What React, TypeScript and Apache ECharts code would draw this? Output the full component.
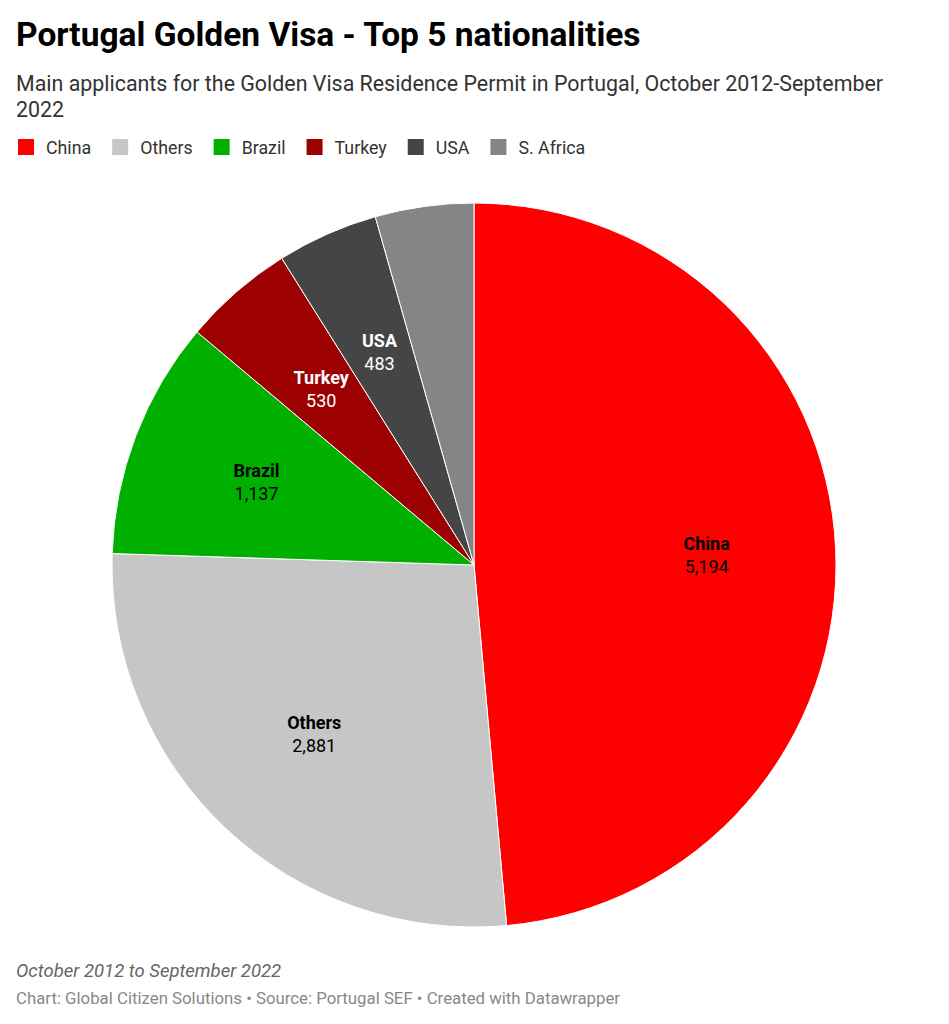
import React, { useEffect, useRef } from "react";
import * as echarts from "echarts";

const categories = ["China", "Others", "Brazil", "Turkey", "USA", "S. Africa"];
const values = [5194, 2881, 1137, 530, 483, 470];
const colors = ["#ff0000", "#c6c6c6", "#00b000", "#9c0000", "#454545", "#858585"];
const labelColors = ["#000", "#000", "#000", "#fff", "#fff", "#fff"];
const showLabel = [true, true, true, true, true, false];

const fmt = (v: number) => v.toLocaleString("en-US");

export default function App() {
  const ref = useRef<HTMLDivElement>(null);
  useEffect(() => {
    document.body.style.margin = "0";
    const chart = echarts.init(ref.current!, null, { renderer: "svg" });
    const font = "Roboto, 'Noto Sans', sans-serif";
    const R = 362;
    chart.setOption({
      animation: false,
      textStyle: { fontFamily: font },
      title: [
        {
          text: "Portugal Golden Visa - Top 5 nationalities",
          left: 16,
          top: 17,
          padding: 0,
          textStyle: { fontFamily: font, fontSize: 33.5, fontWeight: "bold", color: "#000" },
        },
        {
          text: "Main applicants for the Golden Visa Residence Permit in Portugal, October 2012-September\n2022",
          left: 16,
          top: 70,
          padding: 0,
          textStyle: { fontFamily: font, fontSize: 21.4, fontWeight: "normal", color: "#333", lineHeight: 26 },
        },
        {
          text: "October 2012 to September 2022",
          left: 16,
          top: 961,
          padding: 0,
          textStyle: { fontFamily: font, fontSize: 18.5, fontStyle: "italic", fontWeight: "normal", color: "#666" },
        },
        {
          text: "Chart: Global Citizen Solutions • Source: Portugal SEF • Created with Datawrapper",
          left: 16,
          top: 989,
          padding: 0,
          textStyle: { fontFamily: font, fontSize: 16.8, fontWeight: "normal", color: "#888" },
        },
      ],
      legend: {
        left: 16,
        top: 137,
        padding: 0,
        itemWidth: 18,
        itemHeight: 18,
        itemGap: 19,
        icon: "rect",
        selectedMode: false,
        data: categories,
        textStyle: { fontFamily: font, fontSize: 17.8, color: "#333", padding: [0, 0, 0, 6] },
      },
      series: [
        {
          type: "pie",
          center: [474, 565],
          radius: [0, R],
          startAngle: 90,
          clockwise: true,
          silent: true,
          label: { show: false },
          labelLine: { show: false },
          itemStyle: { borderColor: "#fff", borderWidth: 1 },
          data: categories.map((c, i) => ({ name: c, value: values[i], itemStyle: { color: colors[i] } })),
        },
        {
          type: "pie",
          center: [474, 565],
          radius: [0, R * 1.27],
          startAngle: 90,
          clockwise: true,
          silent: true,
          legendHoverLink: false,
          itemStyle: { color: "rgba(0,0,0,0)", borderWidth: 0 },
          labelLine: { show: false },
          data: categories.map((c, i) => ({
            name: c + " ",
            value: values[i],
            label: {
              show: showLabel[i],
              position: "inside",
              formatter: () => `{b|${c}}\n{v|${fmt(values[i])}}`,
              rich: {
                b: { fontFamily: font, fontSize: 18, fontWeight: "bold", color: labelColors[i], lineHeight: 23 },
                v: { fontFamily: font, fontSize: 18, color: labelColors[i], lineHeight: 23 },
              },
            },
          })),
        },
      ],
    });
    return () => chart.dispose();
  }, []);
  return <div ref={ref} style={{ width: 949, height: 1024 }} />;
}
